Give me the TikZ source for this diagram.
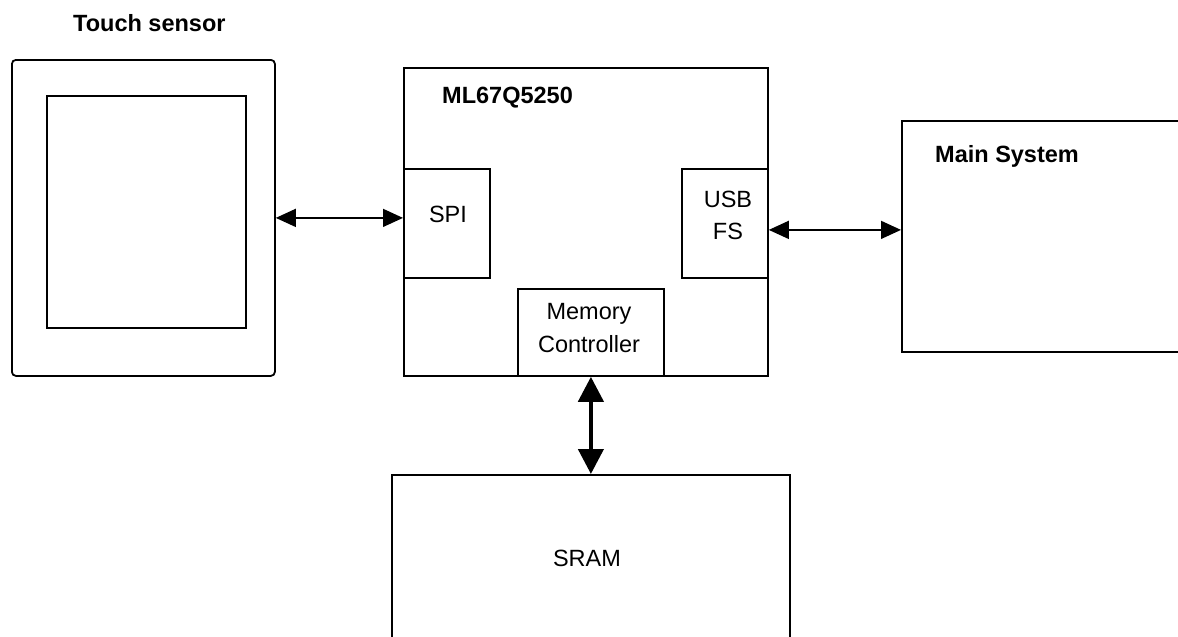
\documentclass[tikz,border=0pt]{standalone}
\usepackage{fontspec}
\setmainfont{Liberation Sans}
\usetikzlibrary{arrows.meta}

\begin{document}
\begin{tikzpicture}[x=1pt,y=-1pt,>={Triangle[length=20pt,width=18pt]},
  font=\fontsize{23.5}{32.5}\selectfont]
  \tikzstyle{block}=[draw,line width=1.8pt,rectangle,anchor=north west,inner sep=0pt]
  \tikzstyle{caption}=[font=\fontsize{23.5}{32.5}\selectfont\bfseries,
  		       anchor=base west,inner sep=0pt]
  \tikzstyle{plain}=[anchor=base,inner sep=0pt]
  \tikzstyle{link}=[<->,line width=1.4pt]

  \clip (0,0) rectangle (1178,637);

  % touch sensor
  \node [block,rounded corners=4pt,minimum width=263pt,minimum height=316pt] (sensor) at (11,59) {};
  \node [block,minimum width=199pt,minimum height=232pt] (panel) at (46,95) {};
  \node [caption] (sensorlbl) at (73,31) {Touch sensor};

  % controller chip
  \node [block,minimum width=364pt,minimum height=308pt] (chip) at (403,67) {};
  \node [caption] (chiplbl) at (442,103) {ML67Q5250};
  \node [block,minimum width=86pt,minimum height=109pt] (spi) at (403,168) {};
  \node [plain] (spilbl) at (448,222) {SPI};
  \node [block,minimum width=86pt,minimum height=109pt] (usb) at (681,168) {};
  \node [plain] (usblbl) at (728,207) {USB};
  \node [plain] (fslbl) at (728,239) {FS};
  \node [block,minimum width=146pt,minimum height=87pt] (memctl) at (517,288) {};
  \node [plain] (memlbl) at (589,319) {Memory};
  \node [plain] (ctllbl) at (589,352) {Controller};

  % host and memory
  \node [block,minimum width=300pt,minimum height=231pt] (main) at (901,120) {};
  \node [caption] (mainlbl) at (935,162) {Main System};
  \node [block,minimum width=398pt,minimum height=200pt] (sram) at (391,474) {};
  \node [plain] (sramlbl) at (587,566) {SRAM};

  % buses
  \draw [link] (sensor.east) -- (sensor.east -| spi.west);
  \coordinate (usbport) at ([yshift=-6.5pt]usb.east);
  \draw [link] (usbport) -- (usbport -| main.west);
  \draw [link,line width=4.3pt,>={Triangle[length=25pt,width=25pt]}]
    (memctl.south) -- (sram.north);
\end{tikzpicture}
\end{document}
